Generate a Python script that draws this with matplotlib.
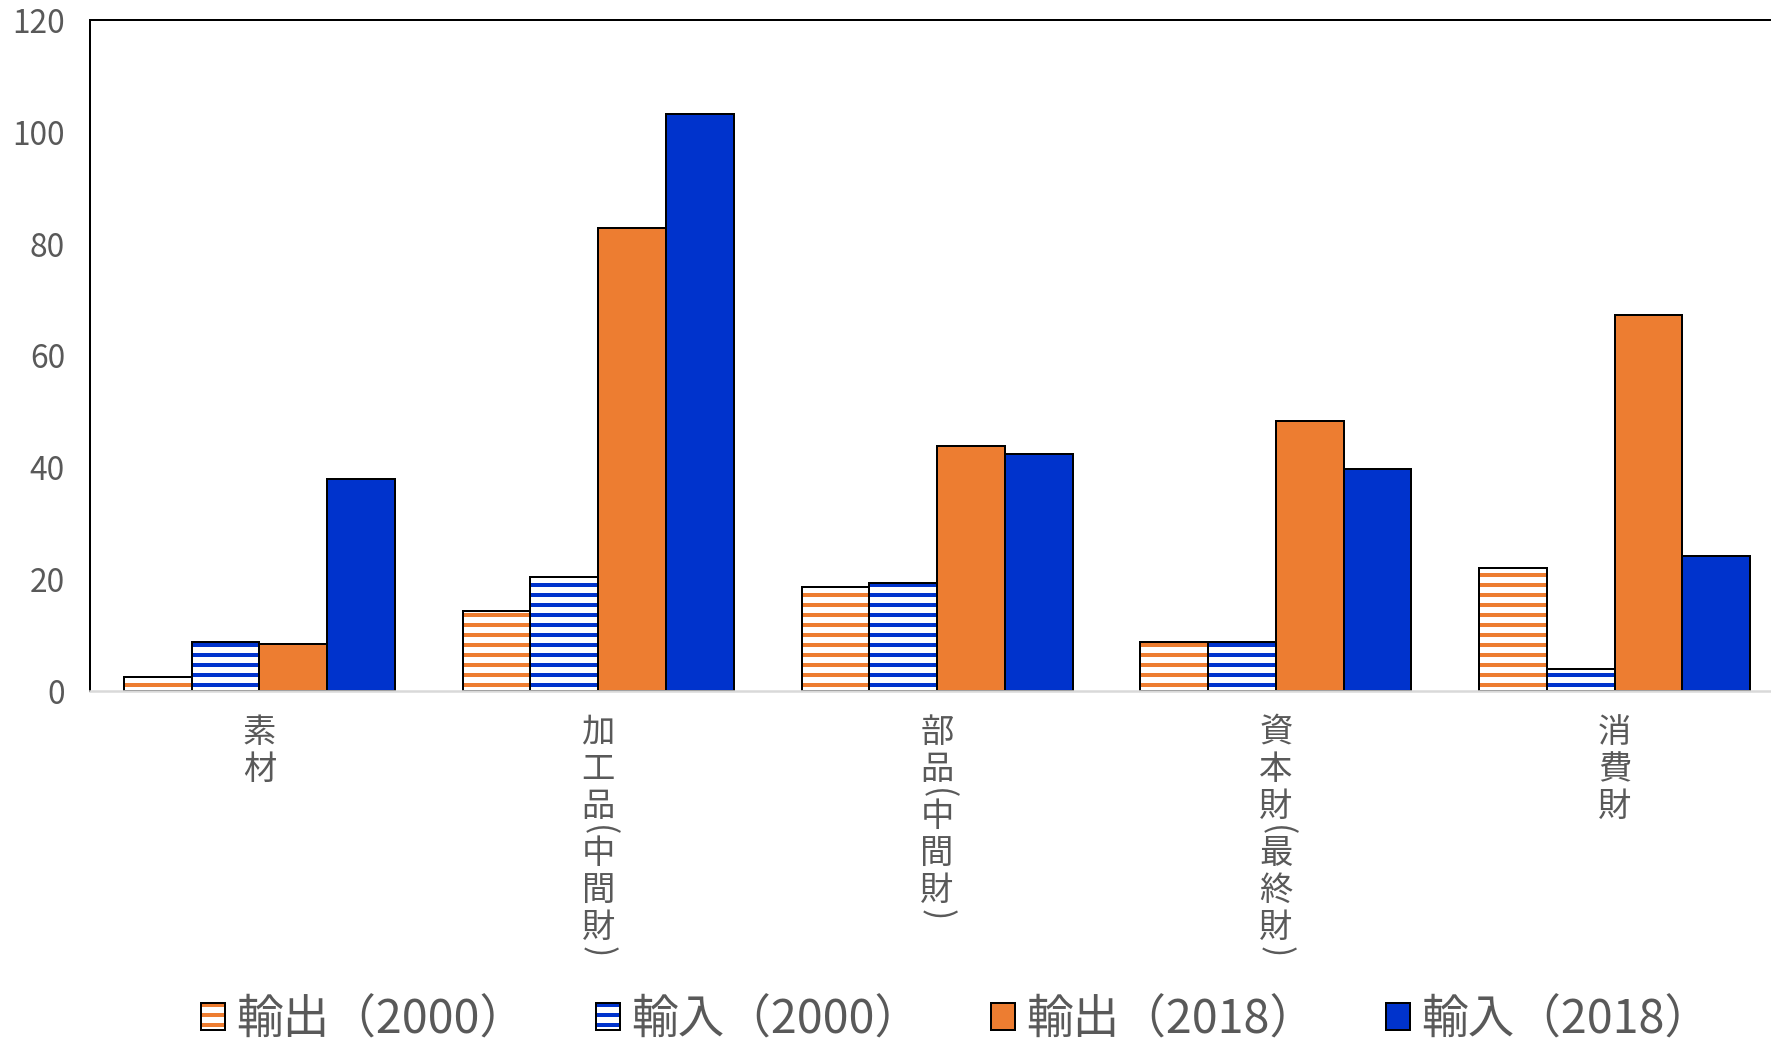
import matplotlib
matplotlib.use('Agg')
import matplotlib.pyplot as plt
from matplotlib.patches import Patch
import numpy as np

plt.rcParams['font.family'] = ['Noto Sans CJK JP', 'DejaVu Sans']
plt.rcParams['hatch.linewidth'] = 2.4

# categories and values
categories = ['素材', '加工品(中間財)', '部品(中間財)', '資本財(最終財)', '消費財']
export_2000 = [2.6, 14.3, 18.6, 8.9, 22.0]
import_2000 = [8.9, 20.4, 19.4, 8.9, 4.0]
export_2018 = [8.5, 82.8, 43.8, 48.3, 67.3]
import_2018 = [38.0, 103.2, 42.4, 39.8, 24.2]
series_labels = ['輸出（2000）', '輸入（2000）', '輸出（2018）', '輸入（2018）']
y_ticks = [0, 20, 40, 60, 80, 100, 120]

orange = '#ED7D31'
blue = '#0033CC'
gray = '#595959'

fig = plt.figure(figsize=(1771 / 120, 1044 / 120), dpi=120)
ax = fig.add_axes([0.0508, 0.3378, 0.9566, 0.6427])

x = np.arange(len(categories))
w = 0.2
series = [export_2000, import_2000, export_2018, import_2018]
colors = [orange, blue, orange, blue]
hatched = [True, True, False, False]

handles = []
for i, (vals, c, h) in enumerate(zip(series, colors, hatched)):
    pos = x + (i - 1.5) * w
    if h:
        # white bars with coloured horizontal stripes, outline drawn separately
        ax.bar(pos, vals, w, color='white', edgecolor=c, hatch='--', linewidth=0)
        ax.bar(pos, vals, w, fill=False, edgecolor='black', linewidth=1.2)
        handles.append((Patch(facecolor='white', edgecolor=c, hatch='--', linewidth=0),
                        Patch(fill=False, edgecolor='black', linewidth=1.2)))
    else:
        ax.bar(pos, vals, w, color=c, edgecolor='black', linewidth=1.2)
        handles.append(Patch(facecolor=c, edgecolor='black', linewidth=1.2))

ax.set_xlim(-0.5, len(categories) - 0.5)
ax.set_ylim(0, 120)
ax.set_yticks(y_ticks)
ax.tick_params(axis='y', length=0, pad=15, labelsize=19, labelcolor=gray)
ax.set_xticks([])

for side in ['left', 'top', 'right']:
    ax.spines[side].set_color('black')
    ax.spines[side].set_linewidth(1.2)
ax.spines['bottom'].set_color('#D9D9D9')
ax.spines['bottom'].set_linewidth(1.5)

# vertical category labels, one character per line
for xi, label in zip(x, categories):
    offset = 0
    for ch in label:
        if ch in '()':
            offset += 5
            ax.annotate(ch, xy=(xi, 0), xycoords=('data', 'axes fraction'),
                        xytext=(0, -23 - offset), textcoords='offset pixels',
                        ha='center', va='center', rotation=-90,
                        fontsize=20, color=gray)
            offset += 5
        else:
            ax.annotate(ch, xy=(xi, 0), xycoords=('data', 'axes fraction'),
                        xytext=(0, -23 - offset - 18), textcoords='offset pixels',
                        ha='center', va='center', fontsize=20, color=gray)
            offset += 37

fig.legend(handles, series_labels, loc='center', bbox_to_anchor=(0.540, 0.023),
           ncol=4, frameon=False, fontsize=28, labelcolor=gray,
           handlelength=0.5, handleheight=0.5, handletextpad=0.25,
           columnspacing=1.5, borderpad=0)

fig.savefig('out.png', dpi=120)
